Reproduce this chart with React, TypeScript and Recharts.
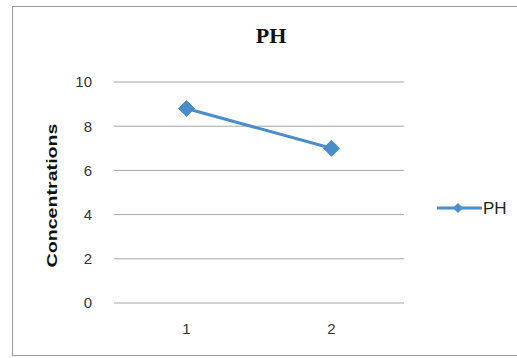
import React from 'react';
import {
  LineChart,
  Line,
  XAxis,
  YAxis,
  CartesianGrid,
  Label,
} from 'recharts';

// Sample numbers and measured pH values
const samples: string[] = ['1', '2'];
const phValues: number[] = [8.8, 7.0];
const yTicks: number[] = [0, 2, 4, 6, 8, 10];

const data = samples.map((s, i) => ({ sample: s, PH: phValues[i] }));

const BLUE = '#4a8dcb';
const SANS = "'Liberation Sans', Arial, sans-serif";

const Diamond = (props: any) => {
  const { cx, cy } = props;
  if (cx == null || cy == null) return null;
  const r = 8;
  return (
    <path
      d={`M${cx},${cy - r} L${cx + r},${cy} L${cx},${cy + r} L${cx - r},${cy} Z`}
      fill={BLUE}
      stroke={BLUE}
      strokeWidth={1}
    />
  );
};

// Series key drawn to the right of the plot
const SeriesKey = () => (
  <g transform="translate(437, 198)">
    <line x1={0} y1={10} x2={45} y2={10} stroke={BLUE} strokeWidth={3} />
    <path d="M21,5 L26,10 L21,15 L16,10 Z" fill={BLUE} />
    <text x={46} y={16} fontFamily={SANS} fontSize={17} fill="#222">
      PH
    </text>
  </g>
);

const YLabel = (props: any) => {
  const { viewBox } = props;
  const cx = viewBox.x + 52;
  const cy = viewBox.y + viewBox.height / 2 + 3;
  return (
    <text
      x={cx}
      y={cy}
      transform={`rotate(-90, ${cx}, ${cy})`}
      textAnchor="middle"
      dominantBaseline="central"
      fontFamily={SANS}
      fontWeight="bold"
      fontSize={14}
      textLength={144}
      lengthAdjust="spacingAndGlyphs"
      fill="#111"
    >
      Concentrations
    </text>
  );
};

export default function App() {
  return (
    <div
      style={{
        position: 'absolute',
        left: 0,
        top: 0,
        width: 517,
        height: 358,
        background: '#fff',
        overflow: 'hidden',
      }}
    >
      <div
        style={{
          position: 'absolute',
          left: 12,
          top: 6,
          width: 520,
          height: 350,
          border: '1px solid #9a9a9a',
          boxSizing: 'border-box',
        }}
      />
      <div style={{ position: 'absolute', left: 0, top: 0 }}>
        <LineChart
          width={517}
          height={358}
          data={data}
          margin={{ top: 82, right: 113, bottom: 25, left: 0 }}
        >
          <text
            x={271}
            y={43}
            textAnchor="middle"
            fontFamily="'Liberation Serif', 'Times New Roman', serif"
            fontWeight="bold"
            fontSize={22}
            fill="#111"
          >
            PH
          </text>
          <CartesianGrid vertical={false} stroke="#a6a6a6" strokeWidth={1} />
          <XAxis
            dataKey="sample"
            scale="band"
            height={30}
            axisLine={false}
            tickLine={false}
            tickMargin={14}
            tick={{ fill: '#333', fontSize: 15, fontFamily: SANS }}
          />
          <YAxis
            width={114}
            domain={[0, 10]}
            ticks={yTicks}
            axisLine={false}
            tickLine={false}
            tickMargin={16}
            tick={{ fill: '#333', fontSize: 15, fontFamily: SANS }}
          >
            <Label content={<YLabel />} />
          </YAxis>
          <Line
            dataKey="PH"
            stroke={BLUE}
            strokeWidth={3}
            dot={<Diamond />}
            activeDot={false}
            isAnimationActive={false}
          />
          <SeriesKey />
        </LineChart>
      </div>
    </div>
  );
}
